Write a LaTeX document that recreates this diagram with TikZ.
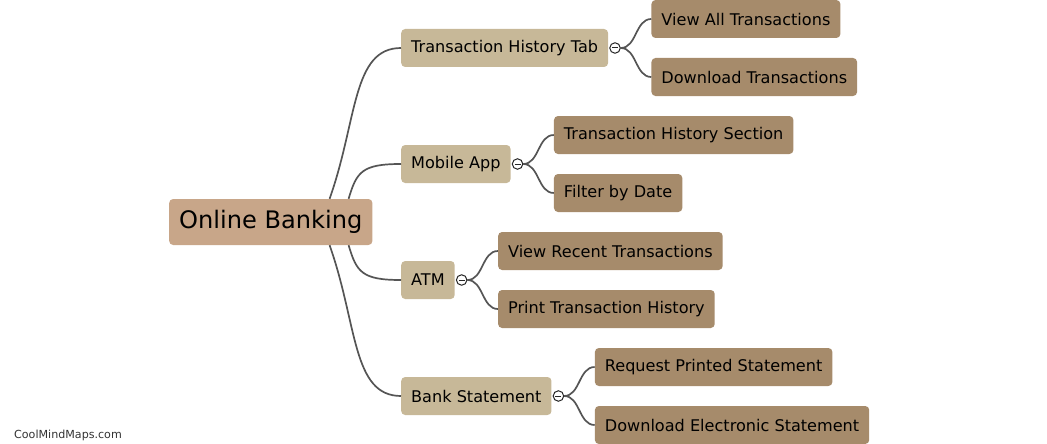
\documentclass[tikz,border=0pt]{standalone}
\usepackage{fontspec}
\setmainfont{DejaVu Sans}
\usetikzlibrary{positioning}
\definecolor{topicfill}{RGB}{200,166,137}
\definecolor{branchfill}{RGB}{199,184,152}
\definecolor{leaffill}{RGB}{166,139,107}
\definecolor{linkgray}{RGB}{85,85,85}

\begin{document}
\begin{tikzpicture}[
    x=1pt, y=-1pt,
    node distance=43pt,
    topic/.style={rectangle, fill=topicfill, rounded corners=4pt, anchor=west, minimum height=46pt, inner xsep=10pt, font=\fontsize{24.1}{28}\selectfont},
    branch/.style={rectangle, fill=branchfill, rounded corners=4pt, anchor=west, minimum height=38pt, inner xsep=10pt, font=\fontsize{16.1}{19}\selectfont},
    leaf/.style={rectangle, fill=leaffill, rounded corners=4pt, minimum height=38pt, inner xsep=10pt, font=\fontsize{16.1}{19}\selectfont},
    fold/.style={circle, draw=black!85, line width=1pt, fill=white, minimum size=10.5pt, inner sep=0pt, path picture={\draw[line width=1pt] ([xshift=-3pt]path picture bounding box.center) -- ([xshift=3pt]path picture bounding box.center);}},
    link/.style={draw=linkgray, line width=1.7pt},
    credit/.style={anchor=west, inner sep=0pt, text=black!80, font=\fontsize{11.1}{13}\selectfont},
]
\useasboundingbox (0,0) rectangle (1047,444);

% Central topic
\node[topic] (banking) at (169,222) {Online Banking};

% Branches
\node[branch] (histtab) at (401,48) {Transaction History Tab};
\node[branch] (mobile) at (401,164) {Mobile App};
\node[branch] (atm) at (401,280) {ATM};
\node[branch] (statement) at (401,396) {Bank Statement};

% Fold markers
\node[fold, right=1pt of histtab.east] (histtabfold) {};
\node[fold, right=1pt of mobile.east] (mobilefold) {};
\node[fold, right=1pt of atm.east] (atmfold) {};
\node[fold, right=1pt of statement.east] (statementfold) {};

% Leaves
\node[leaf, right=of histtab.east, yshift=29pt] (viewall) {View All Transactions};
\node[leaf, right=of histtab.east, yshift=-29pt] (download) {Download Transactions};
\node[leaf, right=of mobile.east, yshift=29pt] (section) {Transaction History Section};
\node[leaf, right=of mobile.east, yshift=-29pt] (filter) {Filter by Date};
\node[leaf, right=of atm.east, yshift=29pt] (recent) {View Recent Transactions};
\node[leaf, right=of atm.east, yshift=-29pt] (print) {Print Transaction History};
\node[leaf, right=of statement.east, yshift=29pt] (request) {Request Printed Statement};
\node[leaf, right=of statement.east, yshift=-29pt] (electronic) {Download Electronic Statement};

% Links from the topic
\draw[link] ([xshift=-43pt]banking.north east) .. controls +(28,-79) and +(-49,0) .. (histtab.west);
\draw[link] ([xshift=-24pt]banking.north east) .. controls +(8,-27) and +(-39,0) .. (mobile.west);
\draw[link] ([xshift=-24pt]banking.south east) .. controls +(8,27) and +(-39,0) .. (atm.west);
\draw[link] ([xshift=-43pt]banking.south east) .. controls +(28,79) and +(-49,0) .. (statement.west);

% Links to the leaves
\draw[link] (histtabfold.east) .. controls +(16,0) and +(-16,0) .. (viewall.west);
\draw[link] (histtabfold.east) .. controls +(16,0) and +(-16,0) .. (download.west);
\draw[link] (mobilefold.east) .. controls +(16,0) and +(-16,0) .. (section.west);
\draw[link] (mobilefold.east) .. controls +(16,0) and +(-16,0) .. (filter.west);
\draw[link] (atmfold.east) .. controls +(16,0) and +(-16,0) .. (recent.west);
\draw[link] (atmfold.east) .. controls +(16,0) and +(-16,0) .. (print.west);
\draw[link] (statementfold.east) .. controls +(16,0) and +(-16,0) .. (request.west);
\draw[link] (statementfold.east) .. controls +(16,0) and +(-16,0) .. (electronic.west);

\node[credit] (watermark) at (14,435) {CoolMindMaps.com};

\end{tikzpicture}
\end{document}
